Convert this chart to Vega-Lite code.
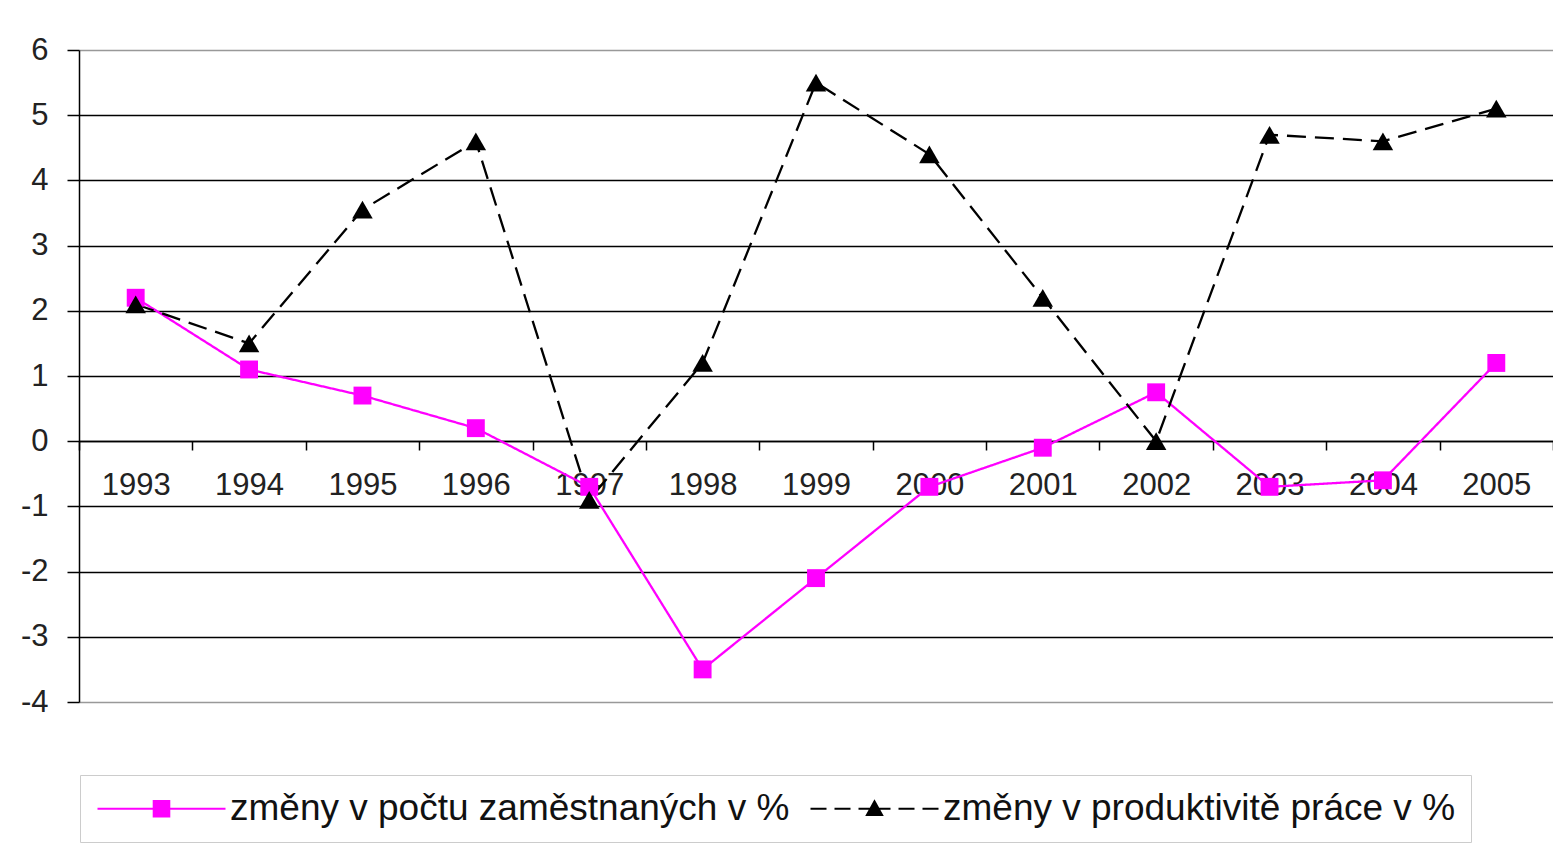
{
  "$schema": "https://vega.github.io/schema/vega-lite/v6.json",
  "width": 1474,
  "height": 652,
  "autosize": {"type": "none"},
  "padding": {"left": 79, "top": 50, "right": 0, "bottom": 144},
  "background": "white",
  "config": {
    "view": {"stroke": null},
    "font": "Liberation Sans"
  },
  "data": {
    "values": [
      {"year": "1993", "series": "změny v počtu zaměstnaných v %", "value": 2.2},
      {"year": "1994", "series": "změny v počtu zaměstnaných v %", "value": 1.1},
      {"year": "1995", "series": "změny v počtu zaměstnaných v %", "value": 0.7},
      {"year": "1996", "series": "změny v počtu zaměstnaných v %", "value": 0.2},
      {"year": "1997", "series": "změny v počtu zaměstnaných v %", "value": -0.7},
      {"year": "1998", "series": "změny v počtu zaměstnaných v %", "value": -3.5},
      {"year": "1999", "series": "změny v počtu zaměstnaných v %", "value": -2.1},
      {"year": "2000", "series": "změny v počtu zaměstnaných v %", "value": -0.7},
      {"year": "2001", "series": "změny v počtu zaměstnaných v %", "value": -0.1},
      {"year": "2002", "series": "změny v počtu zaměstnaných v %", "value": 0.75},
      {"year": "2003", "series": "změny v počtu zaměstnaných v %", "value": -0.7},
      {"year": "2004", "series": "změny v počtu zaměstnaných v %", "value": -0.6},
      {"year": "2005", "series": "změny v počtu zaměstnaných v %", "value": 1.2},
      {"year": "1993", "series": "změny v produktivitě práce v %", "value": 2.1},
      {"year": "1994", "series": "změny v produktivitě práce v %", "value": 1.5},
      {"year": "1995", "series": "změny v produktivitě práce v %", "value": 3.55},
      {"year": "1996", "series": "změny v produktivitě práce v %", "value": 4.6},
      {"year": "1997", "series": "změny v produktivitě práce v %", "value": -0.9},
      {"year": "1998", "series": "změny v produktivitě práce v %", "value": 1.2},
      {"year": "1999", "series": "změny v produktivitě práce v %", "value": 5.5},
      {"year": "2000", "series": "změny v produktivitě práce v %", "value": 4.4},
      {"year": "2001", "series": "změny v produktivitě práce v %", "value": 2.2},
      {"year": "2002", "series": "změny v produktivitě práce v %", "value": 0.0},
      {"year": "2003", "series": "změny v produktivitě práce v %", "value": 4.7},
      {"year": "2004", "series": "změny v produktivitě práce v %", "value": 4.6},
      {"year": "2005", "series": "změny v produktivitě práce v %", "value": 5.1}
    ]
  },
  "encoding": {
    "x": {
      "field": "year",
      "type": "ordinal",
      "bandPosition": 0.5,
      "scale": {"type": "band", "paddingInner": 0, "paddingOuter": 0},
      "axis": {
        "title": null,
        "orient": "bottom",
        "offset": -261,
        "domainColor": "black",
        "domainWidth": 1.5,
        "tickColor": "black",
        "tickWidth": 1.5,
        "tickSize": 9,
        "tickBand": "extent",
        "labelAngle": 0,
        "labelFontSize": 31,
        "labelColor": "#222",
        "labelPadding": 20,
        "grid": false
      }
    },
    "y": {
      "field": "value",
      "type": "quantitative",
      "scale": {"domain": [-4, 6], "nice": false, "zero": false},
      "axis": {
        "title": null,
        "values": [-4, -3, -2, -1, 0, 1, 2, 3, 4, 5, 6],
        "labelExpr": "datum.value + ''",
        "domainColor": "black",
        "domainWidth": 1.5,
        "tickColor": "black",
        "tickWidth": 1.5,
        "tickSize": 12,
        "labelFontSize": 31,
        "labelColor": "#222",
        "labelPadding": 19,
        "grid": true,
        "gridColor": {"condition": {"test": "datum.value == 6 || datum.value == -4", "value": "#999999"}, "value": "black"},
        "gridWidth": 1.5,
        "gridOpacity": 1
      }
    },
    "color": {
      "field": "series",
      "type": "nominal",
      "sort": null,
      "scale": {
        "domain": ["změny v počtu zaměstnaných v %", "změny v produktivitě práce v %"],
        "range": ["#ff00ff", "#000000"]
      },
      "legend": null
    }
  },
  "layer": [
    {
      "mark": {"type": "line", "strokeWidth": 2.3},
      "encoding": {
        "strokeDash": {
          "field": "series",
          "type": "nominal",
          "sort": null,
          "scale": {
            "domain": ["změny v počtu zaměstnaných v %", "změny v produktivitě práce v %"],
            "range": [[1, 0], [19, 9]]
          },
          "legend": null
        },
        "color": {
          "field": "series",
          "type": "nominal",
          "sort": null,
          "scale": {
            "domain": ["změny v počtu zaměstnaných v %", "změny v produktivitě práce v %"],
            "range": ["#ff00ff", "#000000"]
          },
          "legend": {
            "title": null,
            "orient": "none",
            "legendX": 1,
            "legendY": 725,
            "direction": "horizontal",
            "columns": 2,
            "columnPadding": 18,
            "padding": 15,
            "fillColor": "white",
            "strokeColor": "#cccccc",
            "labelFontSize": 37,
            "labelColor": "#111",
            "labelLimit": 1000,
            "labelBaseline": "middle",
            "labelOffset": 98,
            "symbolSize": 1024,
            "symbolStrokeWidth": 0,
            "encode": {
              "symbols": {
                "update": {
                  "shape": {"signal": "datum.value == 'změny v počtu zaměstnaných v %' ? 'M-1,-0.07H7V0.07H-1Z M2.45,-0.55H3.55V0.55H2.45Z' : 'M-1,-0.07H0V0.07H-1Z M0.5,-0.07H1.5V0.07H0.5Z M2,-0.07H4V0.07H2Z M4.5,-0.07H5.5V0.07H4.5Z M6,-0.07H7V0.07H6Z M3,-0.6L3.58,0.45H2.42Z'"},
                  "fill": {"signal": "datum.value == 'změny v počtu zaměstnaných v %' ? '#ff00ff' : '#000000'"},
                  "fillOpacity": {"value": 1},
                  "stroke": {"value": "transparent"},
                  "strokeDash": {"value": [1, 0]}
                }
              }
            }
          }
        }
      }
    },
    {
      "transform": [{"filter": {"field": "series", "equal": "změny v počtu zaměstnaných v %"}}],
      "mark": {"type": "point", "shape": "square", "filled": true, "opacity": 1, "size": 320}
    },
    {
      "transform": [{"filter": {"field": "series", "equal": "změny v produktivitě práce v %"}}],
      "mark": {"type": "point", "shape": "triangle-up", "filled": true, "opacity": 1, "size": 420}
    }
  ]
}
